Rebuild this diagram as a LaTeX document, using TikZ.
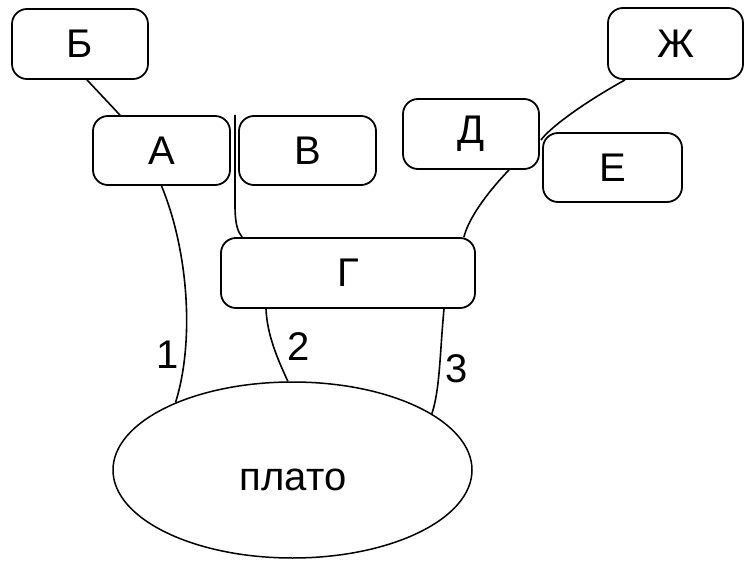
\documentclass[tikz,border=0pt]{standalone}
\usepackage{fontspec}
\setmainfont{Liberation Sans}
\usetikzlibrary{shapes.geometric}
\begin{document}
\begin{tikzpicture}[x=1pt,y=-1pt,
  box/.style={draw, line width=1.8pt, rounded corners=15pt, inner sep=0pt,
    font=\fontsize{40}{42}\selectfont},
  link/.style={line width=1.6pt},
  lbl/.style={font=\fontsize{40}{42}\selectfont, inner sep=0pt}]
\useasboundingbox (0,0) rectangle (752,561);
\node[box, minimum width=136pt, minimum height=70pt] (B) at (80,44) {Б};
\node[box, minimum width=137pt, minimum height=69pt] (A) at (161.5,150.5) {А};
\node[box, minimum width=137pt, minimum height=69pt] (V) at (307.5,150.5) {В};
\node[box, minimum width=136pt, minimum height=70pt] (D) at (471,134) {Д};
\node[box, minimum width=135pt, minimum height=71pt] (Zh) at (675.5,43.5) {Ж};
\node[box, minimum width=139pt, minimum height=69pt] (E) at (612.5,167.5) {Е};
\node[box, minimum width=254pt, minimum height=70pt] (G) at (348,273) {Г};
\node[draw, ellipse, line width=1.5pt, minimum width=359pt, minimum height=176pt,
  inner sep=0pt] (P) at (292.5,470) {};
\node[lbl] (Ptxt) at (293,480) {плато};
\coordinate (vtop) at (235,115);
\node[lbl] (n1) at (167.5,355) {1};
\node[lbl] (n2) at (299,347) {2};
\node[lbl] (n3) at (457,369) {3};
% connectors
\draw[link] ([xshift=7pt]B.south) -- ([xshift=-41.5pt]A.north);
\draw[link] (vtop) -- (235,205) .. controls (235,225) and (238,232) .. ([xshift=22pt]G.north west);
\draw[link] (A.south) .. controls (188,250) and (195,340) .. (P.150);
\draw[link] ([xshift=-82pt]G.south) .. controls (267,335) and (278,360) .. (P.93.6);
\draw[link] ([xshift=96pt]G.south) .. controls (440,350) and (440,390) .. (P.22);
\draw[link] ([xshift=38pt]D.south) .. controls (485,195) and (468,220) .. ([xshift=-12pt]G.north east);
\draw[link] ([xshift=-50.5pt]Zh.south) .. controls (580,105) and (550,128) .. ([yshift=-6pt,xshift=1pt]D.east);
\end{tikzpicture}
\end{document}
